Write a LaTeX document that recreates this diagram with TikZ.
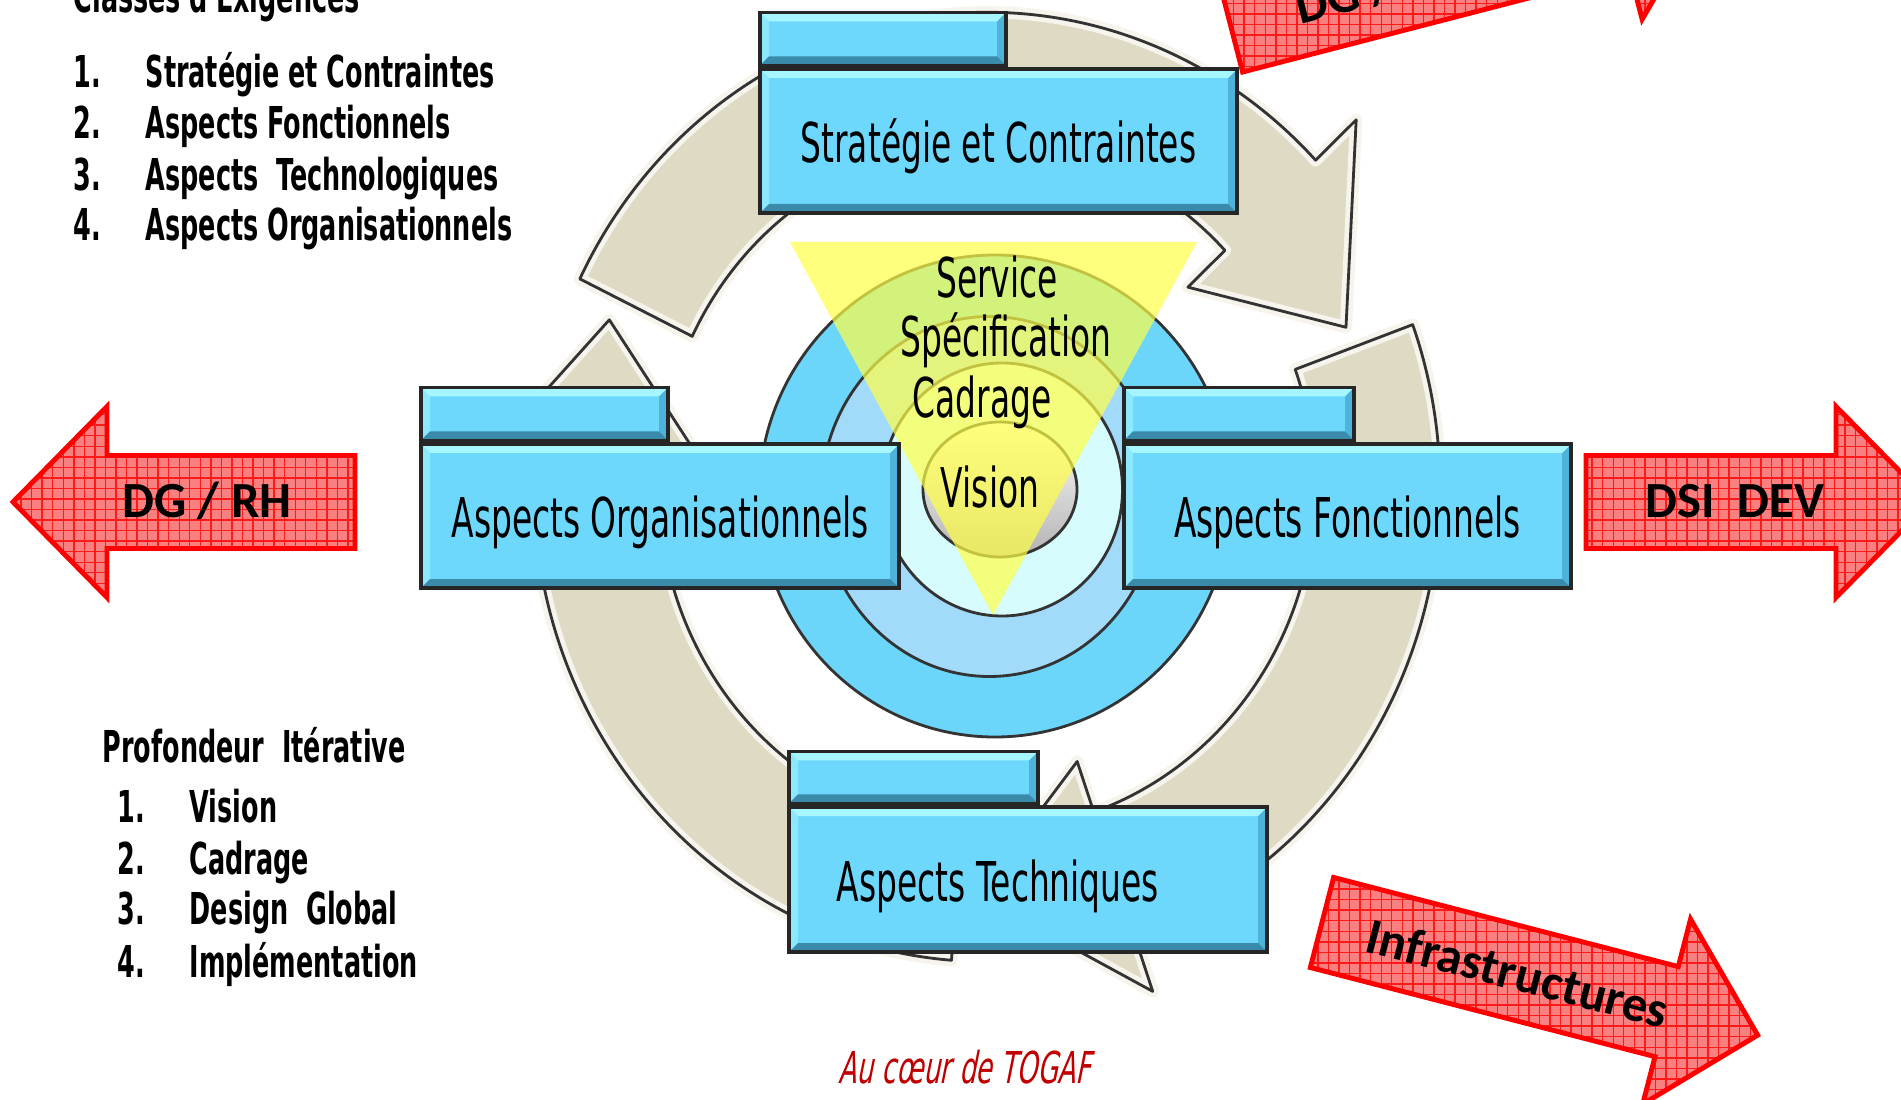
\documentclass[tikz,border=0pt]{standalone}
\usepackage{fontspec}
\usetikzlibrary{calc,patterns}
\newfontfamily\agency[FakeStretch=0.6]{DejaVu Sans}
\newfontfamily\agencybf[FakeStretch=0.58]{DejaVu Sans}
\newfontfamily\agencyit[FakeStretch=0.6,FakeSlant=0.2]{DejaVu Sans}
\newfontfamily\calibri{Carlito}
\definecolor{paneblue}{RGB}{110,216,252}
\definecolor{panetop}{RGB}{165,246,255}
\definecolor{paneleft}{RGB}{140,232,255}
\definecolor{paneright}{RGB}{78,178,218}
\definecolor{panebottom}{RGB}{58,138,172}
\definecolor{ringouter}{RGB}{108,214,250}
\definecolor{ringmid}{RGB}{162,218,250}
\definecolor{ringinner}{RGB}{214,252,253}
\definecolor{cycfill}{RGB}{222,218,196}
\definecolor{cycrim}{RGB}{246,244,236}
\definecolor{trifill}{RGB}{255,255,70}
\definecolor{arrowpink}{RGB}{248,128,128}
\definecolor{togafred}{RGB}{192,0,0}
\tikzset{
  bevel/.style={path picture={
    \path (path picture bounding box.north west) coordinate (bnw)
          (path picture bounding box.north east) coordinate (bne)
          (path picture bounding box.south west) coordinate (bsw)
          (path picture bounding box.south east) coordinate (bse);
    \fill[paneleft] (bnw) -- ($(bnw)+(#1,-#1)$) -- ($(bsw)+(#1,#1)$) -- (bsw) -- cycle;
    \fill[paneright] (bne) -- ($(bne)+(-#1,-#1)$) -- ($(bse)+(-#1,#1)$) -- (bse) -- cycle;
    \fill[panetop] (bnw) -- (bne) -- ($(bne)+(-#1,-#1)$) -- ($(bnw)+(#1,-#1)$) -- cycle;
    \fill[panebottom] (bsw) -- (bse) -- ($(bse)+(-#1,#1)$) -- ($(bsw)+(#1,#1)$) -- cycle;
  }},
  bevel/.default=0.09
}
\begin{document}
\begin{tikzpicture}
  \tikzstyle{panel}=[draw=black!85, line width=1pt, fill=paneblue, bevel, inner sep=0pt, minimum height=1.44cm, text height=0.44cm, text depth=0pt, font=\agency\fontsize{15.6}{18}\selectfont]
  \tikzstyle{paneltab}=[panel, minimum height=0.53cm, anchor=south west]
  \tikzstyle{cyc}=[preaction={fill=cycfill}, draw=cycrim, line width=3.5pt, line join=round, postaction={draw=black!80, line width=0.8pt}]
  \tikzstyle{ringline}=[draw=black!80, line width=0.8pt]
  \tikzstyle{redarrow}=[preaction={fill=arrowpink}, pattern=grid, pattern color=red!90, draw=red, line width=1.4pt]
  \tikzstyle{redlabel}=[font=\calibri\bfseries\fontsize{14.4}{17}\selectfont]
  \tikzstyle{level}=[anchor=base, inner sep=0pt, font=\agency\fontsize{15.6}{18}\selectfont]
  \tikzstyle{listitem}=[anchor=base west, inner sep=0pt, font=\agencybf\bfseries\fontsize{12.5}{15}\selectfont]
  \useasboundingbox (0,0) rectangle (19.01,-11);
  \clip (0,0) rectangle (19.01,-11);

  \begin{scope}[shift={(9.87,-4.87)}, yscale=1.048]
    \draw[cyc] (154:4.53) arc[start angle=154, end angle=43.5, radius=4.53] -- (43.5:5.09) -- (23:3.9)
      -- (43.5:2.77) -- (43.5:3.28) arc[start angle=43.5, end angle=154, radius=3.28] -- cycle;
    \draw[cyc] (20:4.53) arc[start angle=20, end angle=-71, radius=4.53] -- (-71:5.09) -- (-91.5:3.9)
      -- (-71:2.77) -- (-71:3.28) arc[start angle=-71, end angle=20, radius=3.28] -- cycle;
    \draw[cyc] (-94.5:4.53) arc[start angle=-94.5, end angle=-182.3, radius=4.53] -- (-182.3:5.09) -- (-202.9:4.1)
      -- (-182.3:2.77) -- (-182.3:3.28) arc[start angle=-182.3, end angle=-94.5, radius=3.28] -- cycle;
  \end{scope}

  \draw[ringline, fill=ringouter] (9.95,-4.96) ellipse [x radius=2.36, y radius=2.41];
  \draw[ringline, fill=ringmid] (9.895,-4.965) ellipse [x radius=1.685, y radius=1.80];
  \draw[ringline, fill=ringinner] (10.02,-4.895) ellipse [x radius=1.205, y radius=1.265];
  \draw[ringline, top color=white, bottom color=black!30] (10.00,-4.895) ellipse [x radius=0.77, y radius=0.675];
  \fill[trifill, opacity=0.7] (7.90,-2.42) -- (11.97,-2.42) -- (9.93,-6.15) -- cycle;

  \node[panel, minimum width=4.77cm] (strat) at (9.985,-1.41) {Stratégie et Contraintes};
  \node[paneltab, minimum width=2.46cm] (strattab) at (strat.north west) {};
  \node[panel, minimum width=4.78cm] (orga) at (6.60,-5.16) {Aspects Organisationnels};
  \node[paneltab, minimum width=2.47cm] (orgatab) at (orga.north west) {};
  \node[panel, minimum width=4.47cm] (fonc) at (13.475,-5.16) {Aspects Fonctionnels};
  \node[paneltab, minimum width=2.30cm] (fonctab) at (fonc.north west) {};
  \node[panel, minimum width=4.78cm, minimum height=1.45cm] (tech) at (10.28,-8.795) {Aspects Techniques\hspace*{0.6cm}};
  \node[paneltab, minimum width=2.49cm, minimum height=0.52cm] (techtab) at (tech.north west) {};

  \node[level] (svc) at (9.97,-2.98) {Service};
  \node[level] (spec) at (10.06,-3.57) {Spécification};
  \node[level] (cad) at (9.82,-4.18) {Cadrage};
  \node[level] (vis) at (9.90,-5.07) {Vision};

  \begin{scope}[shift={(3.55,-5.02)}, rotate=180]
    \draw[redarrow] (0,0.465) -- (2.48,0.465) -- (2.48,0.955) -- (3.42,0) -- (2.48,-0.955) -- (2.48,-0.465) -- (0,-0.465) -- cycle;
  \end{scope}
  \begin{scope}[shift={(15.86,-5.02)}]
    \draw[redarrow] (0,0.465) -- (2.50,0.465) -- (2.50,0.955) -- (3.44,0) -- (2.50,-0.955) -- (2.50,-0.465) -- (0,-0.465) -- cycle;
  \end{scope}
  \begin{scope}[shift={(13.22,-9.225)}, rotate=-14.5]
    \draw[redarrow] (0,0.465) -- (3.56,0.465) -- (3.56,0.955) -- (4.50,0) -- (3.56,-0.955) -- (3.56,-0.465) -- (0,-0.465) -- cycle;
  \end{scope}
  \begin{scope}[shift={(12.31,-0.27)}, rotate=14.5]
    \draw[redarrow] (0,0.465) -- (4.00,0.465) -- (4.00,0.955) -- (4.94,0) -- (4.00,-0.955) -- (4.00,-0.465) -- (0,-0.465) -- cycle;
  \end{scope}
  \node[redlabel, anchor=base] (dgrh) at (2.07,-5.18) {DG / RH};
  \node[redlabel, anchor=base] (dsidev) at (17.35,-5.18) {DSI~~DEV};
  \node[redlabel, rotate=-14.5] (infra) at (15.18,-9.73) {Infrastructures};
  \node[redlabel, anchor=base west, inner sep=0pt, rotate=14.5] (dgtop) at (13.00,-0.25) {DG /};

  \node[listitem] (classes) at (0.73,-0.13) {Classes d'Exigences};
  \node[listitem] (cn1) at (0.73,-0.88) {1.}; \node[listitem] (ct1) at (1.45,-0.88) {Stratégie et Contraintes};
  \node[listitem] (cn2) at (0.73,-1.39) {2.}; \node[listitem] (ct2) at (1.45,-1.39) {Aspects Fonctionnels};
  \node[listitem] (cn3) at (0.73,-1.91) {3.}; \node[listitem] (ct3) at (1.45,-1.91) {Aspects~~Technologiques};
  \node[listitem] (cn4) at (0.73,-2.41) {4.}; \node[listitem] (ct4) at (1.45,-2.41) {Aspects Organisationnels};

  \node[listitem] (prof) at (1.02,-7.63) {Profondeur~~Itérative};
  \node[listitem] (pn1) at (1.17,-8.23) {1.}; \node[listitem] (pt1) at (1.89,-8.23) {Vision};
  \node[listitem] (pn2) at (1.17,-8.74) {2.}; \node[listitem] (pt2) at (1.89,-8.74) {Cadrage};
  \node[listitem] (pn3) at (1.17,-9.24) {3.}; \node[listitem] (pt3) at (1.89,-9.24) {Design~~Global};
  \node[listitem] (pn4) at (1.17,-9.77) {4.}; \node[listitem] (pt4) at (1.89,-9.77) {Implémentation};

  \node[anchor=base west, inner sep=0pt, text=togafred, font=\agencyit\fontsize{12.5}{15}\selectfont] (togaf) at (8.38,-10.83) {Au cœur de TOGAF};
\end{tikzpicture}
\end{document}
